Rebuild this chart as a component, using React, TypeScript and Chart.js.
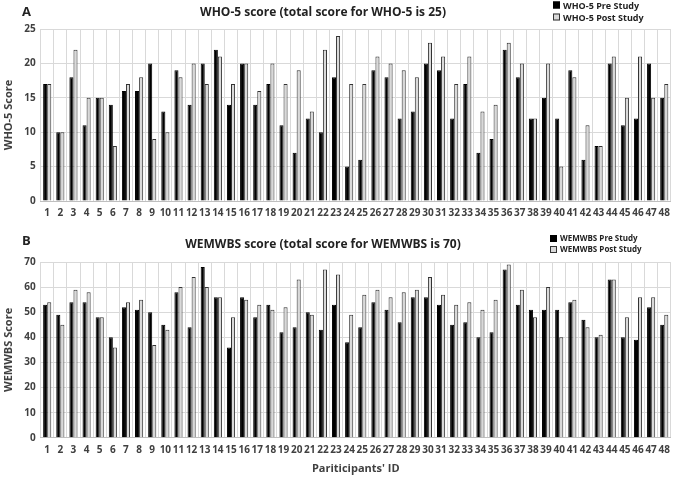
import { useEffect, useRef } from "react";
import { Chart, registerables } from "chart.js";

Chart.register(...registerables);

const participants = [
  "1", "2", "3", "4", "5", "6", "7", "8", "9", "10", "11", "12",
  "13", "14", "15", "16", "17", "18", "19", "20", "21", "22", "23", "24",
  "25", "26", "27", "28", "29", "30", "31", "32", "33", "34", "35", "36",
  "37", "38", "39", "40", "41", "42", "43", "44", "45", "46", "47", "48",
];

const who5Pre = [
  17, 10, 18, 11, 15, 14, 16, 16, 20, 13, 19, 14, 20, 22, 14, 20, 14, 17, 11, 7, 12, 10, 18, 5,
  6, 19, 18, 12, 13, 20, 19, 12, 17, 7, 9, 22, 18, 12, 15, 12, 19, 6, 8, 20, 11, 12, 20, 15,
];
const who5Post = [
  17, 10, 22, 15, 15, 8, 17, 18, 9, 10, 18, 20, 17, 21, 17, 20, 16, 20, 17, 19, 13, 22, 24, 17,
  17, 21, 20, 19, 18, 23, 21, 17, 21, 13, 14, 23, 20, 12, 20, 5, 18, 11, 8, 21, 15, 21, 15, 17,
];

const wemwbsPre = [
  53, 49, 54, 54, 48, 40, 52, 51, 50, 45, 58, 44, 68, 56, 36, 56, 48, 53, 42, 44, 50, 43, 53, 38,
  44, 54, 51, 46, 56, 56, 53, 45, 46, 40, 42, 67, 53, 51, 51, 51, 54, 47, 40, 63, 40, 39, 52, 45,
];
const wemwbsPost = [
  54, 45, 59, 58, 48, 36, 54, 55, 37, 43, 60, 64, 60, 56, 48, 55, 53, 51, 52, 63, 49, 67, 65, 49,
  57, 59, 56, 58, 59, 64, 57, 53, 54, 51, 55, 69, 59, 48, 60, 40, 55, 44, 41, 63, 48, 56, 56, 49,
];

const FONT = "'Open Sans', 'Noto Sans', sans-serif";
const TEXT = "#404040";
const GRID = "#d9d9d9";
const PRE_COLOR = "#000000";
const POST_COLOR = "#d9d9d9";
const POST_BORDER = "#333333";

interface PanelProps {
  letter: string;
  title: string;
  yTitle: string;
  xTitle?: string;
  pre: number[];
  post: number[];
  preLabel: string;
  postLabel: string;
  yMax: number;
  yStep: number;
  height: number;
  top: number;
  pad: { top: number; bottom: number };
  titleY: number;
  letterY: number;
  legendX: number;
  legendY: number[];
  legendSize: number;
}

function Panel(p: PanelProps) {
  const canvasRef = useRef<HTMLCanvasElement | null>(null);

  useEffect(() => {
    const ctx = canvasRef.current?.getContext("2d");
    if (!ctx) return;

    const chart = new Chart(ctx, {
      type: "bar",
      data: {
        labels: participants,
        datasets: [
          {
            label: p.preLabel,
            data: p.pre,
            backgroundColor: PRE_COLOR,
            borderColor: PRE_COLOR,
            borderWidth: 1,
          },
          {
            label: p.postLabel,
            data: p.post,
            backgroundColor: POST_COLOR,
            borderColor: POST_BORDER,
            borderWidth: 1,
          },
        ],
      },
      options: {
        responsive: false,
        animation: false,
        layout: { padding: { left: 2, right: 3, top: p.pad.top, bottom: p.pad.bottom } },
        datasets: { bar: { categoryPercentage: 0.62, barPercentage: 1 } },
        plugins: {
          legend: { display: false },
          title: { display: false },
          tooltip: { enabled: false },
        },
        scales: {
          x: {
            grid: { color: GRID, drawTicks: false, offset: true },
            border: { color: "#bfbfbf" },
            ticks: {
              padding: 6,
              autoSkip: false,
              maxRotation: 0,
              color: TEXT,
              font: { family: FONT, size: 10, weight: "bold" },
            },
            title: {
              display: !!p.xTitle,
              text: p.xTitle ?? "",
              color: TEXT,
              font: { family: FONT, size: 11, weight: "bold" },
              padding: { top: 0, bottom: 0 },
            },
          },
          y: {
            min: 0,
            max: p.yMax,
            grid: { color: GRID, drawTicks: false },
            border: { display: false },
            ticks: {
              stepSize: p.yStep,
              padding: 5,
              color: TEXT,
              font: { family: FONT, size: 10, weight: "bold" },
            },
            title: {
              display: true,
              text: p.yTitle,
              color: TEXT,
              font: { family: FONT, size: 11, weight: "bold" },
              padding: { top: 0, bottom: 4 },
            },
          },
        },
      },
    });

    return () => {
      chart.destroy();
    };
  }, [p]);

  const textBase: React.CSSProperties = {
    position: "absolute",
    fontFamily: FONT,
    fontWeight: "bold",
    color: TEXT,
    whiteSpace: "nowrap",
    lineHeight: 1,
  };

  return (
    <div style={{ position: "absolute", left: 0, top: p.top, width: 676, height: p.height }}>
      <canvas ref={canvasRef} width={676} height={p.height} style={{ display: "block" }} />
      <div style={{ ...textBase, left: 22, top: p.letterY, fontSize: 13, color: "#222", transform: "translateY(-50%)" }}>
        {p.letter}
      </div>
      <div
        style={{
          ...textBase,
          left: 323,
          top: p.titleY,
          fontSize: 12,
          color: "#222",
          transform: "translate(-50%, -50%)",
        }}
      >
        {p.title}
      </div>
      {[
        { label: p.preLabel, fill: PRE_COLOR, stroke: PRE_COLOR },
        { label: p.postLabel, fill: POST_COLOR, stroke: POST_BORDER },
      ].map((item, i) => (
        <div
          key={item.label}
          style={{
            ...textBase,
            left: p.legendX,
            top: p.legendY[i],
            fontSize: p.legendSize,
            color: "#222",
            display: "flex",
            alignItems: "center",
            transform: "translateY(-50%)",
          }}
        >
          <span
            style={{
              display: "inline-block",
              width: 5,
              height: 5,
              background: item.fill,
              border: `1px solid ${item.stroke}`,
              marginRight: 3,
            }}
          />
          {item.label}
        </div>
      ))}
    </div>
  );
}

export default function App() {
  return (
    <div style={{ position: "absolute", left: 0, top: 0, width: 676, height: 477, background: "#fff" }}>
      <Panel
        letter="A"
        title="WHO-5 score (total score for WHO-5 is 25)"
        yTitle="WHO-5 Score"
        pre={who5Pre}
        post={who5Post}
        preLabel="WHO-5 Pre Study"
        postLabel="WHO-5 Post Study"
        yMax={25}
        yStep={5}
        height={225}
        top={0}
        pad={{ top: 29, bottom: 0 }}
        titleY={12}
        letterY={11}
        legendX={553}
        legendY={[5, 17]}
        legendSize={9}
      />
      <Panel
        letter="B"
        title="WEMWBS score (total score for WEMWBS is 70)"
        yTitle="WEMWBS Score"
        xTitle="Pariticipants' ID"
        pre={wemwbsPre}
        post={wemwbsPost}
        preLabel="WEMWBS Pre Study"
        postLabel="WEMWBS Post Study"
        yMax={70}
        yStep={10}
        height={252}
        top={225}
        pad={{ top: 37, bottom: 2 }}
        titleY={19}
        letterY={15}
        legendX={550}
        legendY={[13, 24]}
        legendSize={8}
      />
    </div>
  );
}
